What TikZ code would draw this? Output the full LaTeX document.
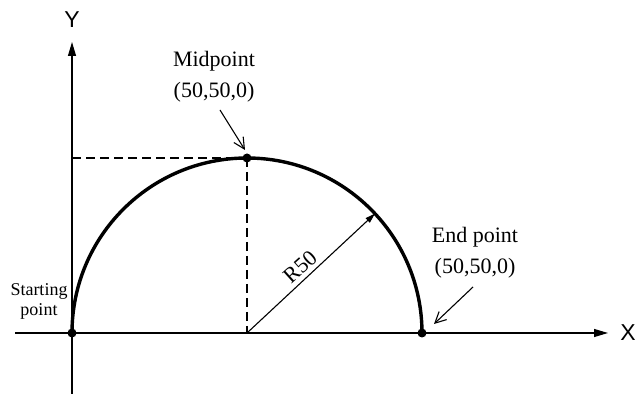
\documentclass[tikz,border=0pt]{standalone}
\usepackage{fontspec}
\setmainfont{Liberation Serif}
\newfontfamily\axisfont{Liberation Sans}
\usetikzlibrary{arrows.meta,calc}
\begin{document}
\begin{tikzpicture}[x=1pt,y=1pt,
  axisline/.style={line width=1.1pt,-{Triangle[length=14pt,width=8pt]}},
  dashline/.style={line width=1.4pt,dash pattern=on 9pt off 5pt},
  arcline/.style={line width=3.4pt},
  pointer/.style={line width=1.1pt,-{Straight Barb[length=11pt,width=11pt,line width=1.1pt]}},
  dot/.style={circle,fill=black,inner sep=0pt,minimum size=9pt},
  lbl/.style={font=\fontsize{22}{31}\selectfont,align=center,inner sep=0pt},
  smalllbl/.style={font=\fontsize{18}{20}\selectfont,align=center,inner sep=0pt},
  axlbl/.style={font=\axisfont\fontsize{23}{24}\selectfont,inner sep=0pt}]
\useasboundingbox (0,0) rectangle (638,394);
% coordinates
\coordinate (ybot) at (72,0);
\coordinate (ytop) at (72,352);
\coordinate (xleft) at (15,61);
\coordinate (xright) at (608,61);
\coordinate (C) at (247,61);
\coordinate (S) at (72,61);
\coordinate (M) at (247,236);
\coordinate (E) at (422,61);
\coordinate (YM) at (72,236);
\coordinate (R) at ($(C)+(43:175)$);
% axes
\draw[axisline] (ybot) -- (ytop);
\draw[axisline] (xleft) -- (xright);
\node[axlbl] (ylbl) at (72,374) {Y};
\node[axlbl] (xlbl) at (628,61) {X};
% dashed
\draw[dashline] (YM) -- (M);
\draw[dashline] (M) -- (C);
% arc
\draw[arcline] (S) arc[start angle=180,end angle=0,radius=175];
% radius
\draw[line width=1.1pt,-{Triangle[length=10pt,width=6pt]}] (C) -- (R);
\node[lbl,rotate=42] (r50) at (300,127) {R50};
% dots
\node[dot] (sdot) at (S) {};
\node[dot] (mdot) at (M) {};
\node[dot] (edot) at (E) {};
% labels
\node[lbl] (midlbl) at (214,317) {Midpoint\\(50,50,0)};
\coordinate (mfrom) at (220,284);
\coordinate (mto) at (245,244);
\draw[pointer] (mfrom) -- (mto);
\node[lbl] (endlbl) at (475,141) {End point\\(50,50,0)};
\coordinate (efrom) at (473,107);
\coordinate (eto) at (434,70);
\draw[pointer] (efrom) -- (eto);
\node[smalllbl] (stlbl) at (39,93) {Starting\\point};
\end{tikzpicture}
\end{document}
